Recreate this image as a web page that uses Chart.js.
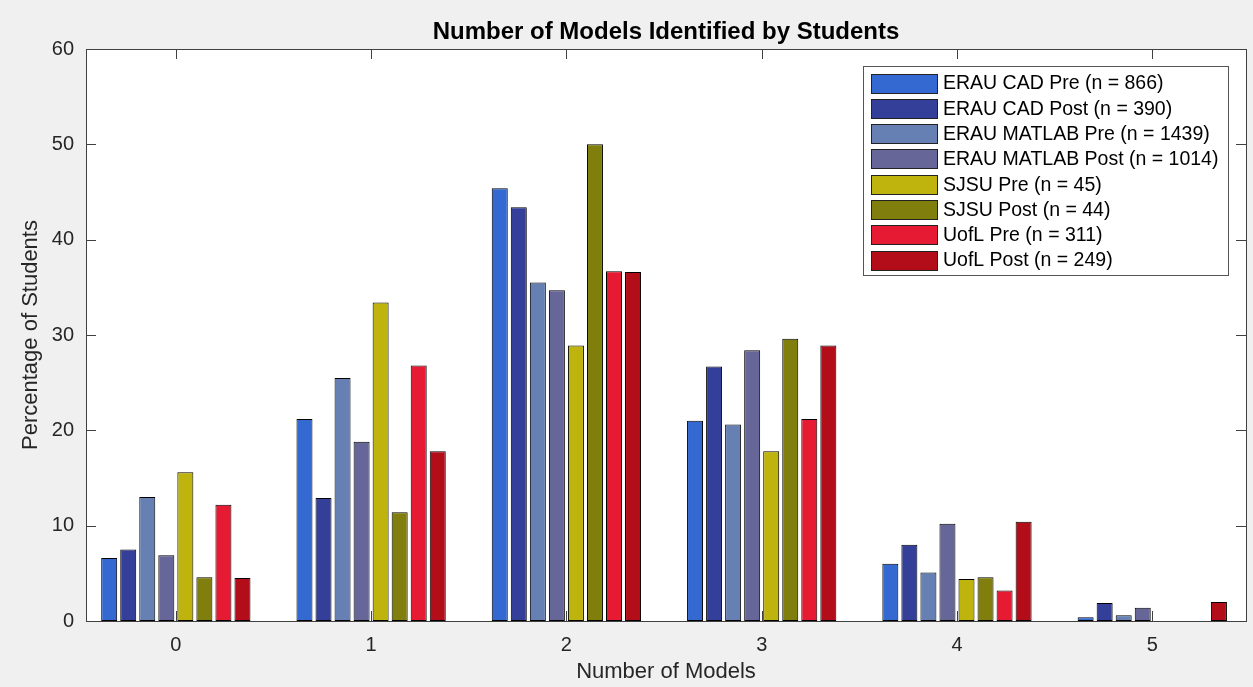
<!DOCTYPE html>
<html>
<head>
<meta charset="utf-8">
<script src="https://cdn.jsdelivr.net/npm/chart.js@4.4.0/dist/chart.umd.min.js"></script>
<style>
    html, body { margin: 0; padding: 0; background: #f0f0f0; }
</style>
</head>
<body>
<canvas id="chart" width="1253" height="687"></canvas>
<script>
// categories on the x axis (number of models)
const categories = ["0", "1", "2", "3", "4", "5"];
const yTickValues = [0, 10, 20, 30, 40, 50, 60];
const chartTitle = "Number of Models Identified by Students";

const seriesNames = [
    "ERAU CAD Pre (n = 866)",
    "ERAU CAD Post (n = 390)",
    "ERAU MATLAB Pre (n = 1439)",
    "ERAU MATLAB Post (n = 1014)",
    "SJSU Pre (n = 45)",
    "SJSU Post (n = 44)",
    "UofL Pre (n = 311)",
    "UofL Post (n = 249)",
];
const seriesColors = [
    "#3369d0", "#333f99", "#6680b3", "#666699",
    "#bfb30d", "#807f0d", "#e61a33", "#b30d1a",
];

// percentage of students per category
const erauCadPre = [6.6, 21.2, 45.4, 21.0, 6.0, 0.4];
const erauCadPost = [7.5, 12.9, 43.4, 26.7, 8.0, 1.9];
const erauMatlabPre = [13.0, 25.5, 35.5, 20.6, 5.1, 0.6];
const erauMatlabPost = [6.9, 18.8, 34.7, 28.4, 10.2, 1.4];
const sjsuPre = [15.6, 33.4, 28.9, 17.8, 4.4, 0];
const sjsuPost = [4.6, 11.4, 50.0, 29.6, 4.6, 0];
const uoflPre = [12.2, 26.8, 36.7, 21.2, 3.2, 0];
const uoflPost = [4.5, 17.8, 36.6, 28.9, 10.4, 2.0];

const allSeries = [erauCadPre, erauCadPost, erauMatlabPre, erauMatlabPost, sjsuPre, sjsuPost, uoflPre, uoflPost];

const FONT = "Helvetica, Arial, 'Liberation Sans', sans-serif";
const AXIS_COLOR = "#404040";
const TICK_LEN = 10;

const datasets = allSeries.map((values, i) => ({
    label: seriesNames[i],
    data: values.map((v, j) => ({ x: j, y: v })),
    backgroundColor: seriesColors[i],
    borderColor: "#000",
    borderWidth: 1,
    borderSkipped: false,
    categoryPercentage: 0.78,
    barPercentage: 0.84,
}));

// gray figure background, white axes, box, ticks and title over the axes
const backgroundPlugin = {
    id: "matlabBackground",
    beforeDraw(chart) {
        const { ctx, chartArea: a } = chart;
        ctx.save();
        ctx.fillStyle = "#f0f0f0";
        ctx.fillRect(0, 0, chart.width, chart.height);
        ctx.fillStyle = "#ffffff";
        ctx.fillRect(a.left, a.top, a.right - a.left, a.bottom - a.top);
        // title centred on the axes, not the figure
        ctx.fillStyle = "#000";
        ctx.font = "bold 24px " + FONT;
        ctx.textAlign = "center";
        ctx.textBaseline = "middle";
        ctx.fillText(chartTitle, (a.left + a.right) / 2, 32);
        ctx.restore();
    },
    // inward tick marks (under the bars)
    beforeDatasetsDraw(chart) {
        const { ctx, chartArea: a, scales } = chart;
        ctx.save();
        ctx.strokeStyle = AXIS_COLOR;
        ctx.lineWidth = 1;
        ctx.beginPath();
        scales.y.ticks.forEach((t) => {
            const y = Math.round(scales.y.getPixelForValue(t.value)) + 0.5;
            ctx.moveTo(a.left, y); ctx.lineTo(a.left + TICK_LEN, y);
            ctx.moveTo(a.right, y); ctx.lineTo(a.right - TICK_LEN, y);
        });
        scales.x.ticks.forEach((t) => {
            const x = Math.round(scales.x.getPixelForValue(t.value)) + 0.5;
            ctx.moveTo(x, a.bottom); ctx.lineTo(x, a.bottom - TICK_LEN);
            ctx.moveTo(x, a.top); ctx.lineTo(x, a.top + TICK_LEN);
        });
        ctx.stroke();
        ctx.restore();
    },
    afterDatasetsDraw(chart) {
        const { ctx, chartArea: a } = chart;
        ctx.save();
        ctx.strokeStyle = AXIS_COLOR;
        ctx.lineWidth = 1;
        ctx.strokeRect(Math.round(a.left) + 0.5, Math.round(a.top) + 0.5,
            Math.round(a.right - a.left), Math.round(a.bottom - a.top));
        ctx.restore();
    },
};

// legend box inside the axes, top right
const insideLegend = {
    id: "insideLegend",
    afterDraw(chart) {
        const { ctx, chartArea: a } = chart;
        const font = "19.5px " + FONT;
        const rowH = 25.3;
        const swW = 66, swH = 19;
        ctx.save();
        ctx.font = font;
        const textW = Math.max(...chart.data.datasets.map((d) => ctx.measureText(d.label).width));
        const boxW = 8 + swW + 6 + textW + 10;
        const boxH = 17 + rowH * (chart.data.datasets.length - 1) + 15;
        const boxR = a.right - 18;
        const boxL = Math.round(boxR - boxW);
        const boxT = Math.round(a.top + 17);
        ctx.fillStyle = "#ffffff";
        ctx.fillRect(boxL, boxT, boxW, boxH);
        ctx.strokeStyle = "#555";
        ctx.lineWidth = 1;
        ctx.strokeRect(boxL + 0.5, boxT + 0.5, Math.round(boxW), Math.round(boxH));
        chart.data.datasets.forEach((d, i) => {
            const cy = boxT + 17 + i * rowH;
            const sx = boxL + 8;
            const sy = Math.round(cy - swH / 2);
            ctx.fillStyle = d.backgroundColor;
            ctx.fillRect(sx, sy, swW, swH);
            ctx.strokeStyle = "#222";
            ctx.strokeRect(sx + 0.5, sy + 0.5, swW, swH);
            ctx.fillStyle = "#000";
            ctx.textBaseline = "middle";
            ctx.textAlign = "left";
            ctx.fillText(d.label, sx + swW + 6, cy + 1);
        });
        ctx.restore();
    },
};

new Chart(document.getElementById("chart"), {
    type: "bar",
    data: { datasets: datasets },
    options: {
        responsive: false,
        animation: false,
        devicePixelRatio: 1,
        layout: { padding: { left: 0, right: 7, top: 49, bottom: 0 } },
        plugins: {
            legend: { display: false },
            tooltip: { enabled: false },
            title: { display: false },
        },
        scales: {
            x: {
                type: "linear",
                offset: false,
                min: -0.46,
                max: 5.48,
                grid: { display: false, drawTicks: false, offset: false },
                border: { display: false },
                afterBuildTicks: (scale) => {
                    scale.ticks = categories.map((c, i) => ({ value: i }));
                },
                afterFit: (scale) => { scale.height = 66; },
                ticks: {
                    padding: 12,
                    color: "#262626",
                    font: { family: FONT, size: 20 },
                    callback: (v) => categories[v],
                },
                title: {
                    display: true,
                    text: "Number of Models",
                    color: "#262626",
                    font: { family: FONT, size: 22 },
                    padding: { top: 0, bottom: 2 },
                },
            },
            y: {
                min: 0,
                max: 60,
                grid: { display: false, drawTicks: false },
                border: { display: false },
                afterBuildTicks: (scale) => {
                    scale.ticks = yTickValues.map((v) => ({ value: v }));
                },
                afterFit: (scale) => { scale.width = 86; },
                ticks: {
                    padding: 12,
                    color: "#262626",
                    font: { family: FONT, size: 20 },
                },
                title: {
                    display: true,
                    text: "Percentage of Students",
                    color: "#262626",
                    font: { family: FONT, size: 22 },
                    padding: { top: 18, bottom: 0 },
                },
            },
        },
    },
    plugins: [backgroundPlugin, insideLegend],
});
</script>
</body>
</html>
